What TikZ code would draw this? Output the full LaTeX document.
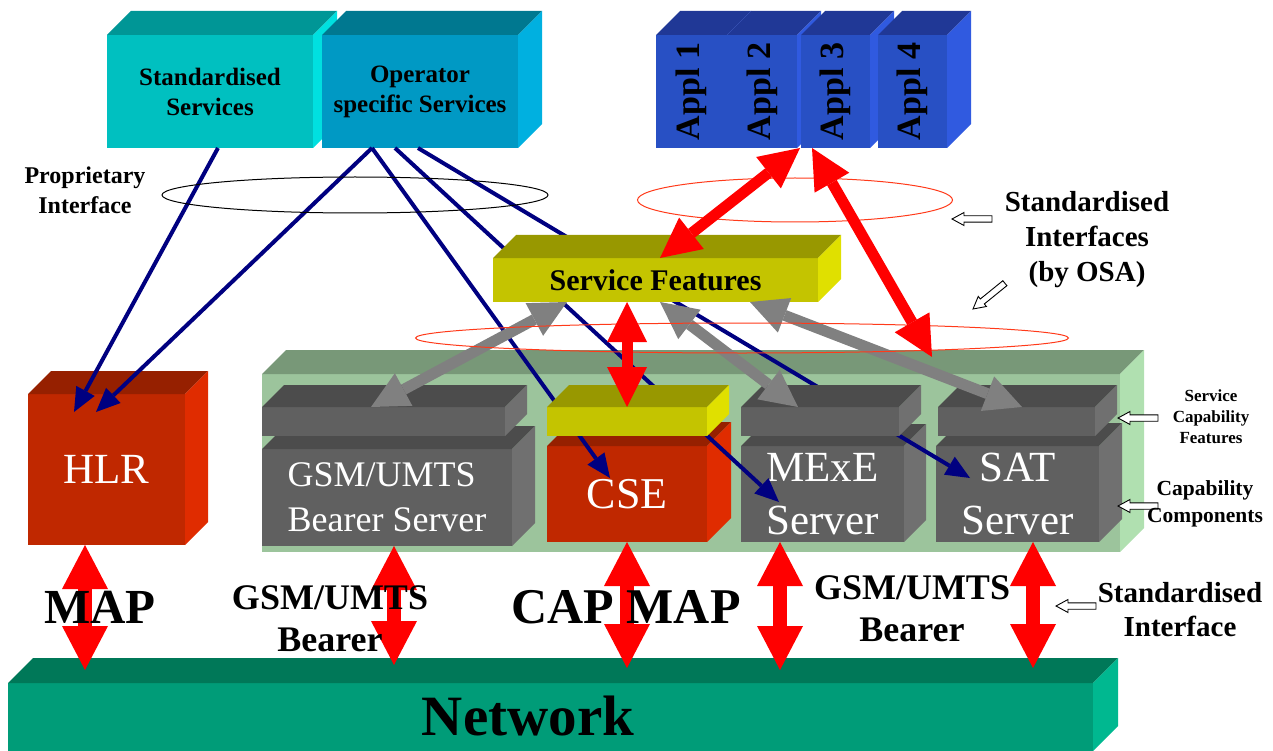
\documentclass[tikz,border=0pt]{standalone}
\usepackage{fontspec}
\setmainfont{Liberation Serif}
\usetikzlibrary{arrows.meta,shapes.geometric,calc}

\definecolor{stdF}{HTML}{00C0C0}\definecolor{stdT}{HTML}{009696}\definecolor{stdS}{HTML}{00E0E0}
\definecolor{opF}{HTML}{0099C4}\definecolor{opT}{HTML}{007890}\definecolor{opS}{HTML}{00B0E0}
\definecolor{apF}{HTML}{2850C4}\definecolor{apT}{HTML}{203896}\definecolor{apS}{HTML}{305AE0}
\definecolor{sfF}{HTML}{C4C400}\definecolor{sfT}{HTML}{989800}\definecolor{sfS}{HTML}{E0E000}
\definecolor{rdF}{HTML}{C02800}\definecolor{rdT}{HTML}{962000}\definecolor{rdS}{HTML}{E02C00}
\definecolor{gnF}{HTML}{9CC49C}\definecolor{gnT}{HTML}{789878}\definecolor{gnS}{HTML}{B0E0B0}
\definecolor{gyF}{HTML}{606060}\definecolor{gyT}{HTML}{4C4C4C}\definecolor{gyS}{HTML}{707070}
\definecolor{nwF}{HTML}{009C78}\definecolor{nwT}{HTML}{007858}\definecolor{nwS}{HTML}{00B890}
\definecolor{navyc}{HTML}{000080}
\definecolor{grayc}{HTML}{808080}
\definecolor{ellred}{HTML}{FF3A1A}

% #1 name, #2 x1, #3 y1, #4 x2, #5 y2, #6 depth, #7 colour prefix, #8 node options, #9 text
\newcommand\mkcube[9]{%
  \node[cubeface, fill=#7F, minimum width={(#4-#2)*1pt}, minimum height={(#5-#3)*1pt}, #8] (#1) at ({(#2+#4)/2},{(#3+#5)/2}) {#9};
  \fill[#7T] (#1.north west) -- ++(#6,-#6) -- ([shift={(#6,-#6)}]#1.north east) -- (#1.north east) -- cycle;
  \fill[#7S] (#1.north east) -- ++(#6,-#6) -- ([shift={(#6,-#6)}]#1.south east) -- (#1.south east) -- cycle;
}

\tikzset{
  cubeface/.style={inner sep=0pt, outer sep=0pt, draw=none},
  wtext/.style={text=white, align=center},
  lbl/.style={inner sep=0pt, outer sep=0pt, align=center},
  blueline/.style={draw=navyc, line width=4pt, arrows={-Triangle[length=24pt,width=21pt,line width=0pt]}},
  grayarrow/.style={draw=grayc, line width=11pt, arrows={Triangle[length=37pt,width=37pt,line width=0pt]-Triangle[length=37pt,width=37pt,line width=0pt]}},
  redarrow/.style={draw=red, line width=11pt, arrows={Triangle[length=40pt,width=40pt,line width=0pt]-Triangle[length=40pt,width=40pt,line width=0pt]}},
  bigred/.style={draw=red, line width=14pt, arrows={Triangle[length=44pt,width=46pt,line width=0pt]-Triangle[length=44pt,width=46pt,line width=0pt]}},
  ringstyle/.style={ellipse, inner sep=0pt, line width=1pt},
  pics/harrow/.style={code={\draw[line width=0.9pt, fill=white] (0,0) -- (12,6.5) -- (12,3.2) -- (#1,3.2) -- (#1,-3.2) -- (12,-3.2) -- (12,-6.5) -- cycle;}}
}

\begin{document}
\begin{tikzpicture}[x=1pt,y=-1pt]
\useasboundingbox (0,0) rectangle (1273,751);

% --- top service boxes
\mkcube{std}{107}{35}{313}{148}{24}{std}{align=center, font=\fontsize{25}{30}\selectfont\bfseries}{Standardised\\Services}
\mkcube{op}{322}{35}{518}{148}{24}{op}{align=center, font=\fontsize{25}{30}\selectfont\bfseries}{Operator\\specific Services}

% --- applications
\mkcube{a1}{656}{35}{727}{148}{24}{ap}{font=\fontsize{34}{40}\selectfont\bfseries}{\rotatebox{90}{Appl 1}}
\mkcube{a2}{727}{35}{797}{148}{24}{ap}{font=\fontsize{34}{40}\selectfont\bfseries}{\rotatebox{90}{Appl 2}}
\mkcube{a3}{801}{35}{870}{148}{24}{ap}{font=\fontsize{34}{40}\selectfont\bfseries}{\rotatebox{90}{Appl 3}}
\mkcube{a4}{878}{35}{947}{148}{24}{ap}{font=\fontsize{34}{40}\selectfont\bfseries}{\rotatebox{90}{Appl 4}}

% --- network
\mkcube{net}{8}{683}{1093}{751}{25}{nw}{}{}
\node[lbl, anchor=base, font=\fontsize{57}{68}\selectfont\bfseries] (netlbl) at (528,735) {Network};

% --- HLR
\mkcube{hlr}{28}{394}{185}{545}{23}{rd}{wtext, font=\fontsize{43}{52}\selectfont}{HLR}

% --- service capability servers container
\mkcube{scs}{262}{374}{1120}{552}{24}{gn}{}{}

% --- capability components
\mkcube{gsm}{262}{449}{512}{546}{23}{gy}{text=white, align=left, font=\fontsize{36}{45}\selectfont}{GSM/UMTS\\Bearer Server}
\mkcube{cse}{547}{446}{707}{542}{24}{rd}{wtext, font=\fontsize{44}{52}\selectfont}{CSE}
\mkcube{mexe}{741}{446}{904}{542}{22}{gy}{wtext, font=\fontsize{43}{53}\selectfont}{MExE\\Server}
\mkcube{sat}{936}{446}{1099}{542}{23}{gy}{wtext, font=\fontsize{43}{53}\selectfont}{SAT\\Server}

% --- blue lines passing behind the feature plates
\draw[blueline] ([xshift=50pt]op.south west) -- ([xshift=63pt,yshift=-32pt]cse.north west);
\draw[blueline] ([xshift=73pt]op.south west) -- ([xshift=38pt,yshift=-56pt]mexe.north west);
\draw[blueline] ([xshift=96pt]op.south west) -- ([xshift=34pt,yshift=-32pt]sat.north west);

% --- service capability feature plates
\mkcube{gsmP}{262}{407}{505}{436}{22}{gy}{}{}
\mkcube{cseP}{547}{407}{707}{436}{22}{sf}{}{}
\mkcube{mexeP}{741}{407}{899}{436}{22}{gy}{}{}
\mkcube{satP}{938}{407}{1095}{436}{22}{gy}{}{}

% --- blue lines to HLR
\draw[blueline] ([xshift=111pt]std.south west) -- ([xshift=46pt,yshift=-18pt]hlr.north west);
\draw[blueline] ([xshift=50pt]op.south west) -- ([xshift=68pt,yshift=-18pt]hlr.north west);

% --- service features
\mkcube{sf}{493}{258}{818}{302}{23}{sf}{font=\fontsize{30}{36}\selectfont\bfseries}{Service Features}

% --- grey arrows
\draw[grayarrow] ([xshift=74pt]sf.south west) -- ([xshift=109pt]gsmP.north west);
\draw[grayarrow] ([xshift=167pt]sf.south west) -- ([xshift=57pt]mexeP.north west);
\draw[grayarrow] ([xshift=257pt]sf.south west) -- ([xshift=84pt]satP.north west);

% --- interface rings
\node[ringstyle, draw=black, minimum width=386pt, minimum height=36pt] (ringP) at (355,195) {};
\node[ringstyle, draw=ellred, minimum width=315pt, minimum height=44pt] (ringA) at (795,200) {};
\node[ringstyle, draw=ellred, minimum width=653pt, minimum height=30pt] (ringB) at (742,338) {};

% --- red arrows
\draw[redarrow] ([xshift=134pt]sf.south west) -- ([xshift=80pt]cseP.north west);
\draw[redarrow] ([xshift=-1pt]a3.south west) -- ([xshift=167pt]sf.north west);
\draw[redarrow] ([xshift=11pt]a3.south west) -- ([xshift=670pt,yshift=17pt]scs.north west);

\draw[bigred] ([xshift=57pt]hlr.south west) -- ([xshift=77pt,yshift=13pt]net.north west);
\draw[bigred] ([xshift=132pt]gsm.south west) -- ([xshift=386pt,yshift=18pt]net.north west);
\draw[bigred] ([xshift=80pt]cse.south west) -- ([xshift=619pt,yshift=15pt]net.north west);
\draw[bigred] ([xshift=39pt]mexe.south west) -- ([xshift=772pt,yshift=13pt]net.north west);
\draw[bigred] ([xshift=97pt]sat.south west) -- ([xshift=1025pt,yshift=15pt]net.north west);

% --- hollow pointer arrows
\pic at (952,219) {harrow=40};
\pic[rotate=39] at (973,309) {harrow=41};
\pic at (1118,418) {harrow=40};
\pic at (1118,506) {harrow=40};
\pic at (1056,606) {harrow=40};

% --- labels
\node[lbl, font=\fontsize{24}{30}\selectfont\bfseries] (lblProp) at (85,190) {Proprietary\\Interface};
\node[lbl, font=\fontsize{29}{35}\selectfont\bfseries] (lblOSA) at (1087,240) {Standardised\\Interfaces\\(by OSA)};
\node[lbl, font=\fontsize{17}{21}\selectfont\bfseries] (lblSCF) at (1211,417) {Service\\Capability\\Features};
\node[lbl, font=\fontsize{21.5}{27}\selectfont\bfseries] (lblCC) at (1205,503.5) {Capability\\Components};
\node[lbl, font=\fontsize{29}{34}\selectfont\bfseries] (lblSI) at (1180,610) {Standardised\\Interface};
\node[lbl, anchor=base, font=\fontsize{49}{58}\selectfont\bfseries] (lblMAP) at (100,623) {MAP};
\node[lbl, font=\fontsize{36}{42}\selectfont\bfseries] (lblGSM1) at (330,619) {GSM/UMTS\\Bearer};
\node[lbl, anchor=base, font=\fontsize{50}{60}\selectfont\bfseries] (lblCAP) at (626,623) {CAP MAP};
\node[lbl, font=\fontsize{36}{42}\selectfont\bfseries] (lblGSM2) at (912,609) {GSM/UMTS\\Bearer};

\end{tikzpicture}
\end{document}
